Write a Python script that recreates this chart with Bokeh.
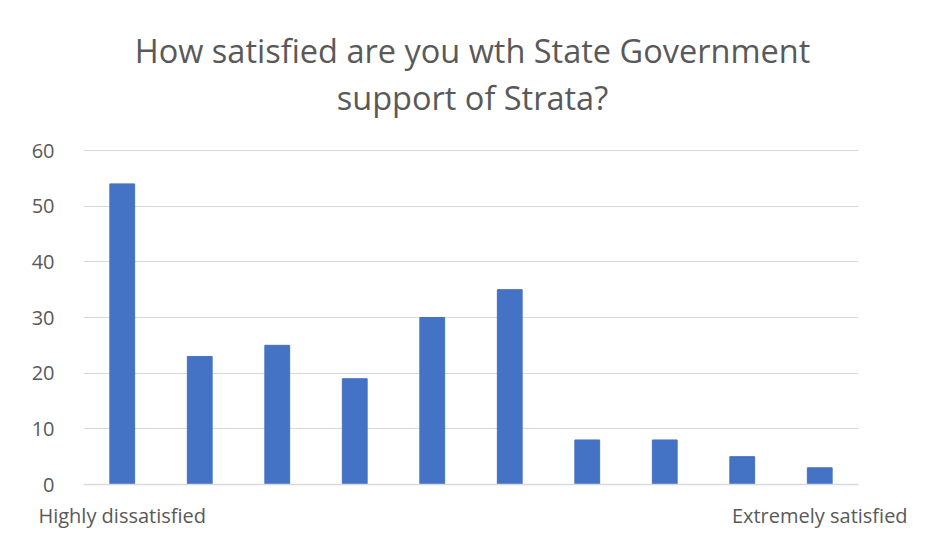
from bokeh.plotting import figure
from bokeh.models import FixedTicker, Range1d, ColumnDataSource, Label
from bokeh.embed import file_html
from bokeh.resources import INLINE

positions = [1, 2, 3, 4, 5, 6, 7, 8, 9, 10]
counts = [54, 23, 25, 19, 30, 35, 8, 8, 5, 3]
tick_labels = {1: "Highly dissatisfied", 10: "Extremely satisfied"}
y_ticks = [0, 10, 20, 30, 40, 50, 60]
title_lines = ["How satisfied are you wth State Government", "support of Strata?"]

# layout (pixels)
W, H = 925, 540
left, right, bottom, top = 83, 67, 56, 0
frame_h = H - top - bottom
axis_px = 334            # pixel height of the 0..60 value span
y_max = 60 * frame_h / axis_px

src = ColumnDataSource(dict(x=positions, top=counts))

p = figure(width=W, height=H, output_backend="svg", toolbar_location=None,
           x_range=Range1d(0.5, 10.5), y_range=Range1d(0, y_max),
           min_border_left=left, min_border_right=right, min_border_bottom=bottom, min_border_top=top)

# title lines drawn inside the (tall) frame, above the value area
def px_to_y(py):
    return (H - bottom - py) * y_max / frame_h

def px_to_x(px):
    return 0.5 + (px - left) * 10 / (W - left - right)

for line, py in zip(title_lines, [50, 97]):
    p.add_layout(Label(x=px_to_x(472), y=px_to_y(py), text=line,
                       text_align="center", text_baseline="middle",
                       text_font="Open Sans", text_font_size="32.5px", text_color="#595959"))

p.vbar(x="x", top="top", width=0.32, source=src, color="#4472C4")

p.xaxis.ticker = FixedTicker(ticks=list(tick_labels.keys()))
p.xaxis.major_label_overrides = tick_labels
p.xaxis.major_tick_line_color = None
p.xaxis.minor_tick_line_color = None
p.xaxis.axis_line_color = "#d9d9d9"
p.xaxis.axis_line_width = 1.5
p.xaxis.major_label_standoff = 11
p.xaxis.major_label_text_font = "Open Sans"
p.xaxis.major_label_text_font_size = "20px"
p.xaxis.major_label_text_color = "#595959"

p.yaxis.ticker = FixedTicker(ticks=y_ticks)
p.yaxis.axis_line_color = None
p.yaxis.major_tick_line_color = None
p.yaxis.minor_tick_line_color = None
p.yaxis.major_label_standoff = 23
p.yaxis.major_label_text_font = "Open Sans"
p.yaxis.major_label_text_font_size = "20px"
p.yaxis.major_label_text_color = "#595959"

p.xgrid.grid_line_color = None
p.ygrid.grid_line_color = "#d9d9d9"
p.ygrid.grid_line_width = 1.2
p.outline_line_color = None
p.border_fill_color = "white"

open("out.html", "w").write(file_html(p, INLINE))
